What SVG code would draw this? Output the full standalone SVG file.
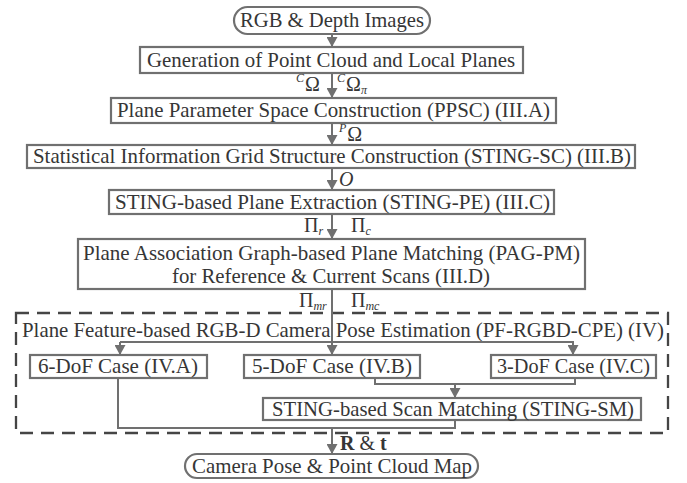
<svg xmlns="http://www.w3.org/2000/svg" width="687" height="483" viewBox="0 0 687 483">
  <style>
    .box { fill: #ffffff; stroke: #707070; stroke-width: 2.2; }
    .lbl { font-family: "Liberation Serif", "Times New Roman", serif; font-size: 21px; fill: #363636; }
    .math { font-family: "Liberation Serif", "Times New Roman", serif; font-size: 20px; fill: #363636; }
    .sup { font-size: 12px; font-style: italic; }
    .conn { fill: none; stroke: #707070; stroke-width: 2; }
    .frame { fill: none; stroke: #454545; stroke-width: 2.3; stroke-dasharray: 13 8; }
  </style>
  <defs>
    <marker id="arrow" markerUnits="userSpaceOnUse" markerWidth="11" markerHeight="11" refX="10" refY="5.5" orient="auto">
      <path d="M0,0 L10,5.5 L0,11 z" fill="#707070"/>
    </marker>
  </defs>

  <rect width="687" height="483" fill="#ffffff"/>

  <!-- dashed frame of the pose estimation stage -->
  <g id="pf-rgbd-cpe">
    <rect class="frame" x="16" y="313" width="652" height="120"/>
    <text class="lbl" x="22" y="337" textLength="642" lengthAdjust="spacingAndGlyphs">Plane Feature-based RGB-D Camera Pose Estimation (PF-RGBD-CPE) (IV)</text>
  </g>

  <!-- connectors -->
  <g id="connectors">
    <line class="conn" x1="332" y1="34" x2="332" y2="47" marker-end="url(#arrow)"/>
    <line class="conn" x1="332" y1="73" x2="332" y2="98" marker-end="url(#arrow)"/>
    <line class="conn" x1="332" y1="123" x2="332" y2="145" marker-end="url(#arrow)"/>
    <line class="conn" x1="332" y1="168" x2="332" y2="190" marker-end="url(#arrow)"/>
    <line class="conn" x1="332" y1="214" x2="332" y2="239" marker-end="url(#arrow)"/>
    <line class="conn" x1="332" y1="289" x2="332" y2="355" marker-end="url(#arrow)"/>
    <polyline class="conn" points="120,342 573,342 573,355" marker-end="url(#arrow)"/>
    <line class="conn" x1="120" y1="342" x2="120" y2="355" marker-end="url(#arrow)"/>
    <polyline class="conn" points="375,378 375,384 455,384"/>
    <polyline class="conn" points="575,378 575,384 455,384 455,398" marker-end="url(#arrow)"/>
    <polyline class="conn" points="118,378 118,428 455,428 455,420"/>
    <line class="conn" x1="332" y1="428" x2="332" y2="454" marker-end="url(#arrow)"/>
  </g>

  <!-- connector labels -->
  <g id="edge-labels">
    <text class="math" x="296" y="91"><tspan class="sup" dy="-9">C</tspan><tspan dy="9" dx="1">Ω</tspan></text>
    <text class="math" x="337" y="91"><tspan class="sup" dy="-9">C</tspan><tspan dy="9" dx="1">Ω</tspan><tspan class="sup" dy="3">π</tspan></text>
    <text class="math" x="339" y="141"><tspan class="sup" dy="-9">P</tspan><tspan dy="9" dx="1">Ω</tspan></text>
    <text class="math" x="339" y="186" font-style="italic">O</text>
    <text class="math" x="304" y="232">Π<tspan class="sup" dy="3">r</tspan></text>
    <text class="math" x="351" y="232">Π<tspan class="sup" dy="3">c</tspan></text>
    <text class="math" x="299" y="307">Π<tspan class="sup" dy="3">mr</tspan></text>
    <text class="math" x="351" y="307">Π<tspan class="sup" dy="3">mc</tspan></text>
    <text class="math" x="340" y="450"><tspan font-weight="bold">R</tspan> &amp; <tspan font-weight="bold">t</tspan></text>
  </g>

  <!-- process nodes -->
  <g id="rgb-depth">
    <rect class="box" x="234" y="7" width="196" height="27" rx="13.5"/>
    <text class="lbl" x="240" y="27" textLength="184" lengthAdjust="spacingAndGlyphs">RGB &amp; Depth Images</text>
  </g>
  <g id="point-cloud">
    <rect class="box" x="140" y="47" width="383" height="26"/>
    <text class="lbl" x="147" y="67" textLength="368" lengthAdjust="spacingAndGlyphs">Generation of Point Cloud and Local Planes</text>
  </g>
  <g id="ppsc">
    <rect class="box" x="111" y="98" width="445" height="25"/>
    <text class="lbl" x="117" y="117" textLength="433" lengthAdjust="spacingAndGlyphs">Plane Parameter Space Construction (PPSC) (III.A)</text>
  </g>
  <g id="sting-sc">
    <rect class="box" x="27" y="145" width="608" height="23"/>
    <text class="lbl" x="33" y="163" textLength="598" lengthAdjust="spacingAndGlyphs">Statistical Information Grid Structure Construction (STING-SC) (III.B)</text>
  </g>
  <g id="sting-pe">
    <rect class="box" x="109" y="190" width="445" height="24"/>
    <text class="lbl" x="115" y="209" textLength="435" lengthAdjust="spacingAndGlyphs">STING-based Plane Extraction (STING-PE) (III.C)</text>
  </g>
  <g id="pag-pm">
    <rect class="box" x="78" y="239" width="507" height="50"/>
    <text class="lbl" x="83" y="260" textLength="497" lengthAdjust="spacingAndGlyphs">Plane Association Graph-based Plane Matching (PAG-PM)</text>
    <text class="lbl" x="172" y="283" textLength="318" lengthAdjust="spacingAndGlyphs">for Reference &amp; Current Scans (III.D)</text>
  </g>
  <g id="dof6">
    <rect class="box" x="30" y="355" width="177" height="23"/>
    <text class="lbl" x="38" y="373" textLength="160" lengthAdjust="spacingAndGlyphs">6-DoF Case (IV.A)</text>
  </g>
  <g id="dof5">
    <rect class="box" x="244" y="355" width="176" height="23"/>
    <text class="lbl" x="252" y="373" textLength="160" lengthAdjust="spacingAndGlyphs">5-DoF Case (IV.B)</text>
  </g>
  <g id="dof3">
    <rect class="box" x="491" y="355" width="165" height="23"/>
    <text class="lbl" x="497" y="373" textLength="153" lengthAdjust="spacingAndGlyphs">3-DoF Case (IV.C)</text>
  </g>
  <g id="sting-sm">
    <rect class="box" x="263" y="398" width="378" height="22"/>
    <text class="lbl" x="272" y="416" textLength="362" lengthAdjust="spacingAndGlyphs">STING-based Scan Matching (STING-SM)</text>
  </g>
  <g id="camera-pose">
    <rect class="box" x="185" y="454" width="293" height="24" rx="12"/>
    <text class="lbl" x="192" y="473" textLength="280" lengthAdjust="spacingAndGlyphs">Camera Pose &amp; Point Cloud Map</text>
  </g>
</svg>
